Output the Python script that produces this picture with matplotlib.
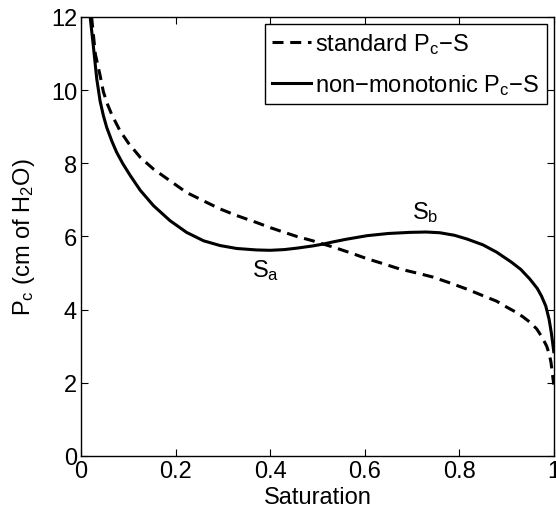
import matplotlib
matplotlib.use("Agg")
import matplotlib.pyplot as plt

plt.rcParams['font.family'] = ['Liberation Sans', 'DejaVu Sans']
plt.rcParams['mathtext.fontset'] = 'custom'
plt.rcParams['mathtext.rm'] = 'Liberation Sans'
plt.rcParams['mathtext.it'] = 'Liberation Sans'

# standard Pc-S (dashed)
s_std = [0.012, 0.022, 0.030, 0.040, 0.047, 0.056, 0.065, 0.082, 0.100, 0.125, 0.153, 0.188,
         0.223, 0.259, 0.294, 0.329, 0.371, 0.40, 0.43, 0.456, 0.49, 0.512, 0.533, 0.57,
         0.605, 0.64, 0.674, 0.71, 0.744, 0.78, 0.816, 0.85, 0.879, 0.90, 0.92, 0.935,
         0.95, 0.964, 0.975, 0.985, 0.99, 0.994, 0.997, 1.0]
pc_std = [13.2, 12.0, 10.98, 10.4, 9.95, 9.6, 9.32, 8.89, 8.55, 8.16, 7.84, 7.52,
          7.2, 6.97, 6.75, 6.57, 6.38, 6.24, 6.11, 6.0, 5.88, 5.79, 5.71, 5.55,
          5.39, 5.25, 5.11, 5.0, 4.89, 4.73, 4.56, 4.38, 4.23, 4.07, 3.93, 3.8,
          3.65, 3.47, 3.25, 3.0, 2.8, 2.57, 2.25, 1.95]

# non-monotonic Pc-S (solid)
s_nm = [0.012, 0.019, 0.026, 0.033, 0.040, 0.047, 0.054, 0.065, 0.075, 0.088, 0.104, 0.125,
        0.153, 0.188, 0.223, 0.259, 0.294, 0.329, 0.371, 0.40, 0.43, 0.457, 0.49, 0.512,
        0.533, 0.56, 0.605, 0.65, 0.695, 0.73, 0.759, 0.79, 0.816, 0.85, 0.879, 0.91,
        0.93, 0.949, 0.965, 0.974, 0.983, 0.99, 0.995, 0.998, 1.0]
pc_nm = [13.2, 12.0, 11.17, 10.3, 9.7, 9.3, 8.98, 8.6, 8.3, 7.99, 7.66, 7.26,
         6.84, 6.43, 6.11, 5.88, 5.75, 5.67, 5.63, 5.62, 5.64, 5.68, 5.74, 5.79,
         5.85, 5.92, 6.02, 6.08, 6.11, 6.12, 6.10, 6.03, 5.93, 5.77, 5.57, 5.30,
         5.10, 4.84, 4.58, 4.37, 4.10, 3.74, 3.35, 3.05, 2.85]

xticks = [0, 0.2, 0.4, 0.6, 0.8, 1]
xticklabels = ['0', '0.2', '0.4', '0.6', '0.8', '1']
yticks = [0, 2, 4, 6, 8, 10, 12]

FS = 17

fig = plt.figure(figsize=(5.56, 5.10), dpi=100)
ax = fig.add_axes([0.146, 0.104, 0.85, 0.861])

ax.plot(s_std, pc_std, color='black', lw=2.2, linestyle=(0, (3.6, 2.2)),
        label='standard P$_{\\mathregular{c}}$\u2212S')
ax.plot(s_nm, pc_nm, color='black', lw=2.2,
        label='non\u2212monotonic P$_{\\mathregular{c}}$\u2212S')

ax.set_xlim(0, 1)
ax.set_ylim(0, 12)
ax.set_xticks(xticks)
ax.set_xticklabels(xticklabels)
ax.set_yticks(yticks)
ax.tick_params(direction='in', length=5, width=0.8, top=True, right=True,
               labelsize=FS, pad=3)
for sp in ax.spines.values():
    sp.set_linewidth(1.0)

ax.set_xlabel('Saturation', fontsize=FS, labelpad=3)
ax.set_ylabel('P$_{\\mathregular{c}}$ (cm of H$_{\\mathregular{2}}$O)', fontsize=FS, labelpad=10)

ax.text(0.39, 4.92, 'S$_{\\mathregular{a}}$', fontsize=FS, ha='center', va='baseline')
ax.text(0.727, 6.5, 'S$_{\\mathregular{b}}$', fontsize=FS, ha='center', va='baseline')

leg = ax.legend(loc='upper right', fontsize=FS, handlelength=1.65, handletextpad=0.2,
                borderpad=0.3, labelspacing=0.7, borderaxespad=0.3,
                fancybox=False, framealpha=1, edgecolor='black')
leg.get_frame().set_linewidth(1.0)

fig.savefig('out.png', dpi=100)
